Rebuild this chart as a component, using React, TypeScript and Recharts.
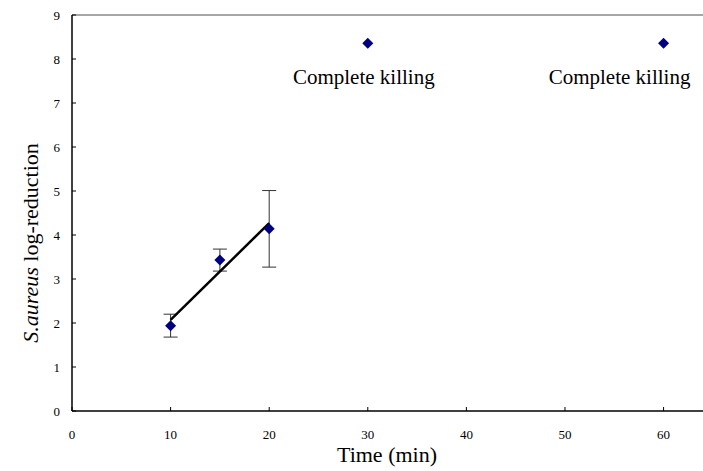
import React from 'react';
import {
  ComposedChart,
  Scatter,
  ErrorBar,
  XAxis,
  YAxis,
  ReferenceLine,
  ReferenceDot,
  Label,
} from 'recharts';

const FONT = '"Liberation Serif", "Times New Roman", serif';

// measured points with standard deviation
const measured = [
  { x: 10, y: 1.94, err: 0.26 },
  { x: 15, y: 3.43, err: 0.25 },
  { x: 20, y: 4.14, err: 0.87 },
];

// complete killing points
const killed = [
  { x: 30, y: 8.36 },
  { x: 60, y: 8.36 },
];

// linear trend through the measured points
const trend = [
  { x: 10, y: 2.07 },
  { x: 20, y: 4.27 },
];

const xTicks = [0, 10, 20, 30, 40, 50, 60];
const yTicks = [0, 1, 2, 3, 4, 5, 6, 7, 8, 9];
const killLabel = 'Complete killing';

const Diamond = (props: any) => {
  const { cx, cy } = props;
  if (cx == null || cy == null) return null;
  const r = 5.5;
  return (
    <polygon
      points={`${cx},${cy - r} ${cx + r},${cy} ${cx},${cy + r} ${cx - r},${cy}`}
      fill="#000080"
    />
  );
};

const XTick = (props: any) => {
  const { x, y, payload } = props;
  return (
    <g>
      <line x1={x} x2={x} y1={y} y2={y - 4} stroke="#000" strokeWidth={1} />
      <text x={x} y={y + 28} textAnchor="middle" fontFamily={FONT} fontSize={13} fill="#000">
        {payload.value}
      </text>
    </g>
  );
};

const YTick = (props: any) => {
  const { x, y, payload } = props;
  return (
    <g>
      <line x1={x} x2={x + 4} y1={y} y2={y} stroke="#000" strokeWidth={1} />
      <text x={x - 12} y={y + 4.5} textAnchor="end" fontFamily={FONT} fontSize={13} fill="#000">
        {payload.value}
      </text>
    </g>
  );
};

const killText = (dx: number) => (props: any) => {
  const { viewBox } = props;
  const cx = viewBox.x + viewBox.width / 2;
  const cy = viewBox.y + viewBox.height / 2;
  return (
    <text x={cx + dx} y={cy + 41} textAnchor="middle" fontFamily={FONT} fontSize={21} fill="#000">
      {killLabel}
    </text>
  );
};

export default function App() {
  return (
    <div style={{ position: 'absolute', left: 0, top: 0, background: '#fff' }}>
      <ComposedChart width={703} height={471} margin={{ top: 15, right: 0, bottom: 0, left: 0 }}>
        <XAxis
          type="number"
          dataKey="x"
          domain={[0, 64]}
          ticks={xTicks}
          allowDataOverflow
          tickSize={0}
          tickMargin={0}
          tickLine={false}
          tick={<XTick />}
          height={60}
          axisLine={{ stroke: '#000', strokeWidth: 1.5 }}
        >
          <Label
            content={() => (
              <text x={387} y={462} textAnchor="middle" fontFamily={FONT} fontSize={22} fill="#000">
                Time (min)
              </text>
            )}
          />
        </XAxis>
        <YAxis
          type="number"
          dataKey="y"
          domain={[0, 9]}
          ticks={yTicks}
          tickSize={0}
          tickMargin={0}
          tickLine={false}
          tick={<YTick />}
          width={72}
          axisLine={{ stroke: '#000', strokeWidth: 1.5 }}
        >
          <Label
            content={() => (
              <text
                x={38}
                y={243}
                transform="rotate(-90, 38, 243)"
                textAnchor="middle"
                fontFamily={FONT}
                fontSize={22}
                fill="#000"
              >
                <tspan fontStyle="italic">S.aureus</tspan>
                <tspan> log-reduction</tspan>
              </text>
            )}
          />
        </YAxis>
        <ReferenceLine y={9} stroke="#888" strokeWidth={1.5} />
        <Scatter
          data={trend}
          line={{ stroke: '#000', strokeWidth: 2.5 }}
          shape={() => null}
          isAnimationActive={false}
        />
        <Scatter data={measured} shape={<Diamond />} isAnimationActive={false}>
          <ErrorBar dataKey="err" direction="y" width={7} stroke="#333" strokeWidth={1} isAnimationActive={false} />
        </Scatter>
        <Scatter data={killed} shape={<Diamond />} isAnimationActive={false} />
        <ReferenceDot x={killed[0].x} y={killed[0].y} r={0} stroke="none" label={killText(-4)} />
        <ReferenceDot x={killed[1].x} y={killed[1].y} r={0} stroke="none" label={killText(-44)} />
      </ComposedChart>
    </div>
  );
}
